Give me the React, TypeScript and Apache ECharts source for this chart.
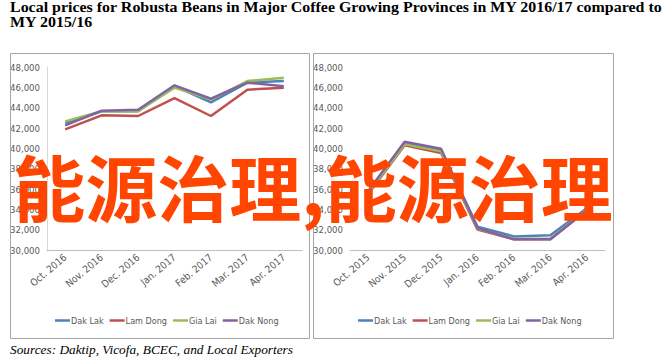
import React, { useEffect, useRef } from "react";
import * as echarts from "echarts";

const seriesNames = ["Dak Lak", "Lam Dong", "Gia Lai", "Dak Nong"];
const seriesColors = ["#4F81BD", "#C0504D", "#9BBB59", "#8064A2"];

const monthsLeft = ["Oct. 2016", "Nov. 2016", "Dec. 2016", "Jan. 2017", "Feb. 2017", "Mar. 2017", "Apr. 2017"];
const monthsRight = ["Oct. 2015", "Nov. 2015", "Dec. 2015", "Jan. 2016", "Feb. 2016", "Mar. 2016", "Apr. 2016"];

const dakLak1617 = [42500, 43640, 43640, 46130, 44520, 46460, 46620];
const lamDong1617 = [41870, 43250, 43180, 44950, 43180, 45770, 45970];
const giaLai1617 = [42650, 43640, 43640, 45970, 44790, 46620, 46950];
const dakNong1617 = [42260, 43700, 43800, 46200, 44880, 46460, 46100];

const dakLak1516 = [35700, 40550, 39800, 32300, 31330, 31450, 34100];
const lamDong1516 = [35500, 40300, 39550, 32000, 31050, 31050, 33900];
const giaLai1516 = [35600, 40400, 39700, 32100, 31100, 31100, 33950];
const dakNong1516 = [35800, 40650, 39950, 32150, 31050, 31050, 33900];

const yMin = 30000;
const yMax = 48000;
const yStep = 2000;

const titleLine1 = "Local prices for Robusta Beans in Major Coffee Growing Provinces in MY 2016/17 compared to";
const titleLine2 = "MY 2015/16";
const sourceText = "Sources: Daktip, Vicofa, BCEC, and Local Exporters";
const overlayText = "能源治理,能源治理";

const axisFont = "'Liberation Sans Narrow', 'DejaVu Sans Condensed', 'Open Sans', sans-serif";

export default function App() {
  const ref = useRef<HTMLDivElement>(null);

  useEffect(() => {
    if (!ref.current) return;
    const chart = echarts.init(ref.current, undefined, { renderer: "svg" });

    const leftData = [dakLak1617, lamDong1617, giaLai1617, dakNong1617];
    const rightData = [dakLak1516, lamDong1516, giaLai1516, dakNong1516];

    const makeY = (idx: number, showLine: boolean) => ({
      type: "value",
      gridIndex: idx,
      min: yMin,
      max: yMax,
      interval: yStep,
      axisLine: { show: showLine, lineStyle: { color: "#D9D9D9", width: 1 } },
      axisTick: { show: false },
      splitLine: { show: false },
      axisLabel: {
        color: "#595959",
        fontSize: 9.5,
        fontFamily: axisFont,
        margin: 7,
        formatter: (v: number) => v.toLocaleString("en-US"),
      },
    });

    const makeX = (idx: number, cats: string[]) => ({
      type: "category",
      gridIndex: idx,
      data: cats,
      boundaryGap: true,
      axisLine: { show: true, lineStyle: { color: "#BFBFBF", width: 1 } },
      axisTick: { show: false },
      axisLabel: {
        color: "#595959",
        fontSize: 10,
        fontFamily: axisFont,
        rotate: 40,
        margin: 6,
        interval: 0,
      },
    });

    const series: any[] = [];
    seriesNames.forEach((name, i) => {
      series.push({
        name,
        type: "line",
        xAxisIndex: 0,
        yAxisIndex: 0,
        data: leftData[i],
        showSymbol: false,
        symbol: "none",
        lineStyle: { color: seriesColors[i], width: 2.5 },
        itemStyle: { color: seriesColors[i] },
        z: 2 + i,
      });
      series.push({
        name,
        type: "line",
        xAxisIndex: 1,
        yAxisIndex: 1,
        data: rightData[i],
        showSymbol: false,
        symbol: "none",
        lineStyle: { color: seriesColors[i], width: 2.5 },
        itemStyle: { color: seriesColors[i] },
        z: 2 + i,
      });
    });

    const legendBase = {
      data: seriesNames,
      icon: "rect",
      itemWidth: 15,
      itemHeight: 2.5,
      itemGap: 6,
      textStyle: { color: "#595959", fontSize: 9, fontFamily: axisFont, padding: [0, 0, 0, -4] },
    };

    chart.setOption({
      animation: false,
      backgroundColor: "#FFFFFF",
      grid: [
        { left: 47, right: 363, top: 67, bottom: 109 },
        { left: 350, right: 60, top: 67, bottom: 109 },
      ],
      xAxis: [makeX(0, monthsLeft), makeX(1, monthsRight)],
      yAxis: [makeY(0, true), makeY(1, false)],
      legend: [
        { ...legendBase, left: 50, top: 311 },
        { ...legendBase, left: 353, top: 311 },
      ],
      series,
      graphic: [
        {
          type: "rect",
          shape: { x: 10.5, y: 53.5, width: 299, height: 285 },
          style: { fill: "none", stroke: "#A6A6A6", lineWidth: 1 },
          z: 1,
        },
        {
          type: "rect",
          shape: { x: 313.5, y: 53.5, width: 300, height: 285 },
          style: { fill: "none", stroke: "#A6A6A6", lineWidth: 1 },
          z: 1,
        },
        {
          type: "text",
          x: 10,
          y: 0,
          scaleX: 1.14,
          style: {
            text: titleLine1 + "\n" + titleLine2,
            fill: "#000000",
            font: "bold 14px 'Liberation Serif', 'Times New Roman', serif",
            lineHeight: 15,
          },
          z: 10,
        },
        {
          type: "text",
          x: 10,
          y: 343,
          scaleX: 1.025,
          style: {
            text: sourceText,
            fill: "#000000",
            font: "italic 13px 'Liberation Serif', 'Times New Roman', serif",
          },
          z: 10,
        },
        {
          type: "text",
          x: 313,
          y: 184,
          style: {
            text: overlayText,
            fill: "#FF4500",
            font: "bold 72px 'Noto Sans CJK SC', sans-serif",
            align: "center",
            verticalAlign: "middle",
          },
          z: 100,
        },
      ],
    });

    return () => chart.dispose();
  }, []);

  return (
    <div
      ref={ref}
      style={{ position: "absolute", left: 0, top: 0, width: 665, height: 359 }}
    />
  );
}
